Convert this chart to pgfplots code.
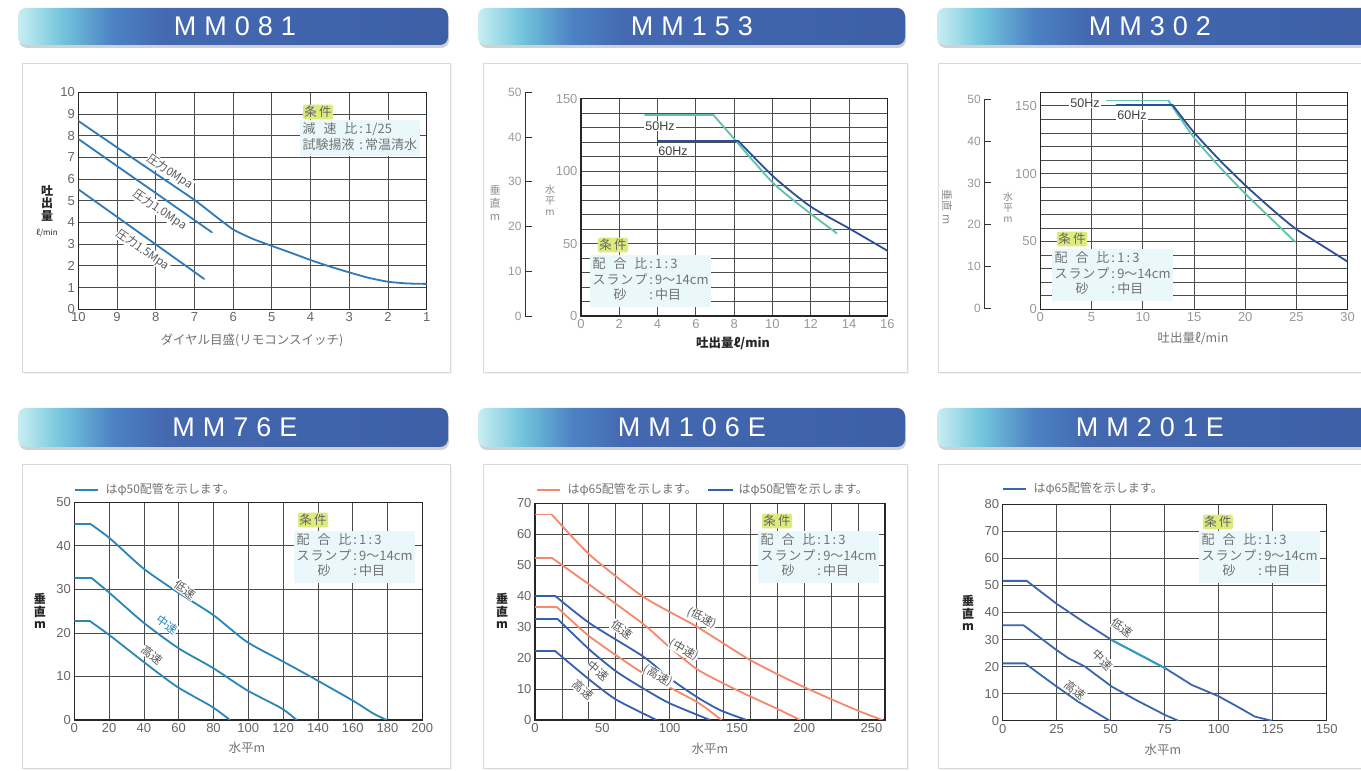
\documentclass[border=0pt]{standalone}
\usepackage{pgfplots}
\pgfplotsset{compat=1.18}
\usepackage{fontspec}
\setmainfont{Liberation Sans}
\newfontfamily\jp{Noto Sans CJK JP}

\definecolor{hA}{HTML}{C8EEF2}
\definecolor{hB}{HTML}{74C6DD}
\definecolor{hC}{HTML}{4C82C4}
\definecolor{hD}{HTML}{4469B1}
\definecolor{hE}{HTML}{3C5FA6}
\definecolor{cblue}{HTML}{2F7AB8}
\definecolor{cteal}{HTML}{2A86B8}
\definecolor{cmint}{HTML}{5EC2AD}
\definecolor{cnavy}{HTML}{2C4F9C}
\definecolor{corange}{HTML}{F4896B}
\definecolor{cblue2}{HTML}{3560B0}
\definecolor{cblue3}{HTML}{3A66AE}
\definecolor{cteal2}{HTML}{2BA3BF}
\definecolor{condbg}{HTML}{EAF7FB}
\definecolor{hl}{HTML}{DDEB7C}

\pgfdeclarehorizontalshading{hdr}{100bp}{color(0bp)=(hA); color(25bp)=(hA); color(30bp)=(hB); color(36bp)=(hC); color(42bp)=(hD); color(75bp)=(hE); color(100bp)=(hE)}

\newcommand\g{\hskip 8pt}

\pgfplotsset{
  chart/.style={
    scale only axis, anchor=south west,
    axis line style={draw=black!85, line width=1.2pt},
    grid style={draw=black!70, line width=0.8pt},
    minor grid style={draw=black!70, line width=0.8pt},
    major tick length=0pt, minor tick length=0pt,
    tick label style={font=\fontsize{13}{13}\selectfont, text=black!60},
    /pgf/number format/assume math mode=true,
    every axis plot/.append style={line width=1.8pt, line cap=round, no marks},
  },
  side/.style={
    scale only axis, anchor=south west, width=10pt,
    axis y line*=left, axis x line=none, xmin=0, xmax=1,
    ymin=0, ymax=50, ytick={0,10,...,50},
    tick align=inside, major tick length=7pt,
    tick style={draw=black!80, line width=0.8pt},
    axis line style={draw=black!80, line width=1pt},
    tick label style={font=\fontsize{12}{12}\selectfont, text=black!40},
    /pgf/number format/assume math mode=true,
  },
}

\tikzset{
  hdrtext/.style={text=white, font=\fontsize{27}{27}\selectfont},
  cl/.style={font=\jp\fontsize{11.5}{11.5}\selectfont, text=black!65, fill=white, inner sep=0.4pt},
  cond/.style={anchor=north west, fill=condbg, inner sep=2.5pt, font=\jp\fontsize{13}{15.5}\selectfont, text=black!55},
  jo/.style={fill=hl, inner sep=1.5pt, rounded corners=2pt, font=\jp\fontsize{12.5}{12.5}\selectfont, text=black!60},
  stack/.style={align=center, font=\jp\bfseries\fontsize{12}{12.5}\selectfont, text=black!85},
  xl/.style={font=\jp\fontsize{12.5}{12.5}\selectfont, text=black!55},
  lg/.style={anchor=west, font=\jp\fontsize{12}{12}\selectfont, text=black!55},
}

\newcommand\condtab{\begin{tabular}{@{}l@{}l@{}}\makebox[4.2em]{配\hfill 合\hfill 比}&\,:\,1\,:\,3\\\makebox[4.2em]{ス\hfill ラ\hfill ン\hfill プ}&\,:\,9〜14cm\\\makebox[4.2em]{砂}&\,:\,中目\end{tabular}}

\begin{document}
\begin{tikzpicture}[x=1pt,y=1pt]
\path[use as bounding box] (0,0) rectangle (1361,771);
\fill[white] (0,0) rectangle (1361,771);

\begin{scope}[shift={(0pt,771pt)}, x=1pt, y=-1pt]
  % cards
  \foreach \a/\b/\c/\d in {22/450/63/372, 483/907/63/372, 938/1362/63/372, 22/450/464/768, 483/907/464/768, 938/1362/464/768} {
    \fill[black!5] ({\a+2},{\c+2}) rectangle ({\b+2},{\d+2});
    \filldraw[fill=white, draw=black!15, line width=0.8pt] (\a,\c) rectangle (\b,\d);
  }
  % headers
  \foreach \a/\b/\c/\d in {18/448/8/45, 478/905/8/45, 937/1375/8/45, 18/448/408/447, 478/905/408/447, 937/1375/408/447} {
    \fill[black!18, rounded corners=8pt] ({\a+1},{\c+3}) rectangle ({\b+1},{\d+3});
    \shade[shading=hdr, rounded corners=8pt] (\a,\c) rectangle (\b,\d);
  }
  \node[hdrtext] at (235,26) {M\g M\g 0\g 8\g 1};
  \node[hdrtext] at (692,26) {M\g M\g 1\g 5\g 3};
  \node[hdrtext] at (1150,26) {M\g M\g 3\g 0\g 2};
  \node[hdrtext] at (235,427) {M\g M\g 7\g 6\g E};
  \node[hdrtext] at (692,427) {M\g M\g 1\g 0\g 6\g E};
  \node[hdrtext] at (1150,427) {M\g M\g 2\g 0\g 1\g E};
\end{scope}

% ---------- MM081
\begin{axis}[chart, at={(78.3pt,461.7pt)}, width=348.4pt, height=217pt,
  xmin=1, xmax=10, x dir=reverse, xtick={1,...,10},
  ymin=0, ymax=10, ytick={0,...,10}, grid=major]
\addplot[cblue, smooth, tension=0.35] coordinates {
  (10,8.68) (9,7.46) (8,6.25) (7,5.04) (6.5,4.35) (6,3.68) (5.5,3.25) (5,2.92)
  (4.5,2.6) (4,2.27) (3.5,1.97) (3,1.70) (2.5,1.45) (2,1.27) (1.5,1.19) (1,1.17)};
\addplot[cblue] coordinates {(10,7.85) (9,6.60) (8,5.36) (7,4.11) (6.55,3.55)};
\addplot[cblue] coordinates {(10,5.53) (9,4.26) (8,2.99) (7,1.72) (6.75,1.40)};
\end{axis}

% ---------- MM153
\begin{axis}[side, at={(525pt,455pt)}, height=223.7pt]
\end{axis}
\begin{axis}[chart, at={(581pt,455pt)}, width=306.3pt, height=217.3pt,
  xmin=0, xmax=16, xtick={0,2,...,16},
  ymin=0, ymax=150, ytick={0,50,100,150}, minor ytick={0,10,...,150},
  grid=both, tick label style={text=black!40}]
\addplot[cmint] coordinates {(3.34,138.7) (6.92,138.7)};
\addplot[cmint, smooth, tension=0.4] coordinates {
  (6.92,138.7) (8.05,121.5) (10.05,91.6) (11.97,70.9) (13.36,57.1)};
\addplot[cnavy] coordinates {(4.04,120.8) (8.22,120.8)};
\addplot[cnavy, smooth, tension=0.4] coordinates {
  (8.22,120.8) (10.05,96.2) (12,75.5) (14,60.5) (16,45.1)};
\end{axis}

% ---------- MM302
\begin{axis}[side, at={(984.3pt,462.7pt)}, height=209pt]
\end{axis}
\begin{axis}[chart, at={(1040.3pt,461.7pt)}, width=307.4pt, height=217pt,
  xmin=0, xmax=30, xtick={0,5,...,30},
  ymin=0, ymax=160, ytick={0,50,100,150}, minor ytick={0,10,...,160},
  grid=both, tick label style={text=black!40}]
\addplot[cmint] coordinates {(6.48,153.9) (12.5,153.9)};
\addplot[cmint, smooth, tension=0.4] coordinates {
  (12.5,153.9) (14.94,127.2) (17.5,105) (19.98,85.4) (22.5,67) (24.86,49.8)};
\addplot[cnavy] coordinates {(7.45,150.5) (12.92,150.5)};
\addplot[cnavy, smooth, tension=0.4] coordinates {
  (12.92,150.5) (14.94,130.9) (17.5,110) (19.98,91.6) (22.5,74.5) (24.86,59.7) (27.5,47) (30,35.1)};
\end{axis}

% ---------- MM76E
\begin{axis}[chart, at={(74.3pt,51pt)}, width=348pt, height=217.7pt,
  xmin=0, xmax=200, xtick={0,20,...,200},
  ymin=0, ymax=50, ytick={0,10,...,50}, grid=major]
\addplot[cteal] coordinates {(0,45.1) (9,45.1)};
\addplot[cteal, smooth, tension=0.4] coordinates {
  (9,45.1) (20.5,41.7) (39.7,34.8) (58.8,29.5) (79.9,24.1) (99,18.0)
  (120.1,13.4) (137.4,9.6) (160.3,4.4) (171.8,1.5) (179.5,0)};
\addplot[cteal] coordinates {(0,32.6) (10,32.6)};
\addplot[cteal, smooth, tension=0.4] coordinates {
  (10,32.6) (20.5,29.1) (39.7,22.4) (59.8,16.5) (79.9,11.9) (99,6.9) (119,2.7) (127.8,0)};
\addplot[cteal] coordinates {(0,22.7) (9,22.7)};
\addplot[cteal, smooth, tension=0.4] coordinates {
  (9,22.7) (20.5,19.4) (39.7,13.4) (58.8,7.7) (78.9,3.1) (89.5,0)};
\end{axis}

% ---------- MM106E
\begin{axis}[chart, at={(535pt,51pt)}, width=350pt, height=216.7pt,
  xmin=0, xmax=260, xtick={0,50,...,250}, minor xtick={0,20,...,260},
  xmajorgrids=false, xminorgrids=true,
  ymin=0, ymax=70, ytick={0,10,...,70}, ymajorgrids=true]
\addplot[corange] coordinates {(0,66.4) (12.4,66.4)};
\addplot[corange, smooth, tension=0.4] coordinates {
  (12.4,66.4) (40.8,53.3) (80.4,39.8) (120,30.2) (159.7,19.4) (199,10.8) (238.9,3.2) (258,0)};
\addplot[corange] coordinates {(0,52.4) (12.4,52.4)};
\addplot[corange, smooth, tension=0.4] coordinates {
  (12.4,52.4) (40.8,43.6) (80.4,31) (100,23.5) (120,16.5) (140,11.8) (160,7.6) (180,3.6) (197,0)};
\addplot[corange] coordinates {(0,36.6) (16,36.6)};
\addplot[corange, smooth, tension=0.4] coordinates {
  (16,36.6) (40.8,26.9) (80.4,15.1) (120,5.9) (138.5,0)};
\addplot[cblue2] coordinates {(0,40.1) (14.9,40.1)};
\addplot[cblue2, smooth, tension=0.4] coordinates {
  (14.9,40.1) (40.8,31.2) (80.4,20.5) (100,13.5) (120,7.5) (137.4,3.2) (157.2,0)};
\addplot[cblue2] coordinates {(0,32.7) (16.6,32.7)};
\addplot[cblue2, smooth, tension=0.4] coordinates {
  (16.6,32.7) (40.8,22.6) (60.6,15.6) (80.4,10.2) (100,5.4) (130,0)};
\addplot[cblue2] coordinates {(0,22.3) (14.9,22.3)};
\addplot[cblue2, smooth, tension=0.4] coordinates {
  (14.9,22.3) (40.8,12.9) (60.6,6.5) (90.3,0)};
\end{axis}

% ---------- MM201E
\begin{axis}[chart, at={(1002.7pt,50.3pt)}, width=324pt, height=216.4pt,
  xmin=0, xmax=150, xtick={0,25,...,150},
  ymin=0, ymax=80, ytick={0,10,...,80}, grid=major]
\addplot[cblue3] coordinates {
  (0,51.7) (11.1,51.7) (25,43.2) (37.5,36.5) (50.5,29.8) (62.85,24.6) (75.2,19.4)
  (87.6,13.2) (99.8,9.1) (108,5.5) (116.8,1.5) (124.5,0)};
\addplot[cteal2] coordinates {(50.5,29.8) (62.85,24.6) (75.2,19.4)};
\addplot[cblue3] coordinates {
  (0,35.3) (9.6,35.3) (25,26.1) (30.4,23.1) (38.1,20) (50.5,12.6) (62.8,7.2) (75.2,2.1) (81.3,0)};
\addplot[cblue3] coordinates {(0,21.2) (10.3,21.2) (25,12.6) (35,7) (49.5,0)};
\end{axis}

% ---------- texts
\begin{scope}[shift={(0pt,771pt)}, x=1pt, y=-1pt]
  % MM081
  \node[stack] at (47,203) {吐\\出\\量};
  \node[font=\jp\fontsize{8}{8}\selectfont, text=black!85] at (47,233) {ℓ/min};
  \node[xl] at (252,340) {ダイヤル目盛(リモコンスイッチ)};
  \node[cl, rotate=-34] at (170,172) {圧力0Mpa};
  \node[cl, rotate=-34] at (160,210) {圧力1.0Mpa};
  \node[cl, rotate=-35] at (143,250) {圧力1.5Mpa};
  \node[cond] at (300,120) {\begin{tabular}{@{}l@{}l@{}}\makebox[4.2em]{減\hfill 速\hfill 比}&\,:\,1/25\\試験揚液&\,:\,常温清水\end{tabular}};
  \node[jo] at (318,112) {条\,件};

  % MM153
  \node[stack, font=\jp\fontsize{11}{13}\selectfont, text=black!45] at (495,203) {垂\\直\\m};
  \node[stack, font=\jp\fontsize{10}{11}\selectfont, text=black!45] at (550,200) {水\\平\\m};
  \node[xl, font=\jp\bfseries\fontsize{12.5}{12.5}\selectfont, text=black!85] at (733,343) {吐出量ℓ/min};
  \node[font=\fontsize{12.5}{12.5}\selectfont, text=black!75, fill=white, inner sep=1pt] at (660,126) {50Hz};
  \node[font=\fontsize{12.5}{12.5}\selectfont, text=black!75, fill=white, inner sep=1pt] at (673,151) {60Hz};
  \node[cond] at (590,255) {\condtab};
  \node[jo] at (613,245) {条\,件};

  % MM302
  \node[font=\jp\fontsize{11}{11}\selectfont, text=black!45, rotate=-90] at (947,207) {垂直 m};
  \node[stack, font=\jp\fontsize{10}{11}\selectfont, text=black!45] at (1008,207) {水\\平\\m};
  \node[xl] at (1193,338) {吐出量ℓ/min};
  \node[font=\fontsize{12.5}{12.5}\selectfont, text=black!75, fill=white, inner sep=1pt] at (1085,103) {50Hz};
  \node[font=\fontsize{12.5}{12.5}\selectfont, text=black!75, fill=white, inner sep=1pt] at (1132,115) {60Hz};
  \node[cond] at (1052,249) {\condtab};
  \node[jo] at (1072,239) {条\,件};

  % MM76E
  \draw[cteal, line width=2pt] (75,490) -- (98,490);
  \node[lg] at (102,490) {はφ50配管を示します。};
  \node[stack] at (40,611) {垂\\直\\m};
  \node[xl] at (247,748) {水平m};
  \node[cl, rotate=-35] at (185,590) {低速};
  \node[cl, rotate=-35, text=cteal] at (167,625) {中速};
  \node[cl, rotate=-38] at (152,655) {高速};
  \node[cond] at (294,531) {\condtab};
  \node[jo] at (313,520) {条\,件};

  % MM106E
  \draw[corange, line width=2pt] (537,490) -- (560,490);
  \node[lg] at (564,490) {はφ65配管を示します。};
  \draw[cblue2, line width=2pt] (708,490) -- (733,490);
  \node[lg] at (735,490) {はφ50配管を示します。};
  \node[stack] at (502,611) {垂\\直\\m};
  \node[xl] at (710,749) {水平m};
  \node[cl, rotate=-28] at (702,618) {(低速)};
  \node[cl, rotate=-30] at (684,650) {(中速)};
  \node[cl, rotate=-30] at (658,676) {(高速)};
  \node[cl, rotate=-35] at (622,630) {低速};
  \node[cl, rotate=-40] at (598,671) {中速};
  \node[cl, rotate=-40] at (583,690) {高速};
  \node[cond] at (758,531) {\condtab};
  \node[jo] at (777,521) {条\,件};

  % MM201E
  \draw[cblue3, line width=2pt] (1003,489) -- (1026,489);
  \node[lg] at (1030,489) {はφ65配管を示します。};
  \node[stack] at (968,613) {垂\\直\\m};
  \node[xl] at (1163,750) {水平m};
  \node[cl, rotate=-35] at (1122,628) {低速};
  \node[cl, rotate=-45] at (1103,660) {中速};
  \node[cl, rotate=-38] at (1075,690) {高速};
  \node[cond] at (1199,531) {\condtab};
  \node[jo] at (1218,522) {条\,件};
\end{scope}
\end{tikzpicture}
\end{document}
